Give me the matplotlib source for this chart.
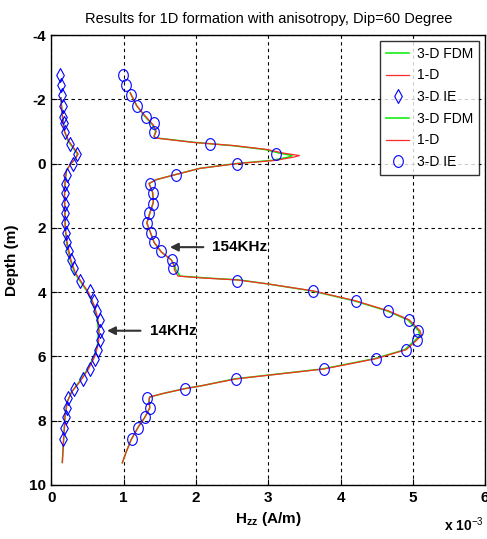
import numpy as np
import matplotlib.pyplot as plt

plt.rcParams['font.family'] = ['Liberation Sans', 'DejaVu Sans']
plt.rcParams['mathtext.fontset'] = 'custom'
plt.rcParams['mathtext.rm'] = 'Liberation Sans'
plt.rcParams['mathtext.bf'] = 'Liberation Sans:bold'

# ---- data (Hzz in 1e-3 A/m, depth in m) ----
# 3-D IE marker depths
ie_depth = [-2.77, -2.43, -2.12, -1.78, -1.46, -1.25, -0.97, -0.62, -0.31, 0.0,
            0.34, 0.62, 0.93, 1.25, 1.53, 1.84, 2.15, 2.43, 2.71, 2.99,
            3.24, 3.64, 3.96, 4.27, 4.58, 4.86, 5.20, 5.48, 5.79, 6.07,
            6.39, 6.70, 7.01, 7.29, 7.60, 7.88, 8.22, 8.57]
ie_14k = [0.12, 0.13, 0.145, 0.16, 0.16, 0.17, 0.19, 0.26, 0.35, 0.30,
          0.21, 0.19, 0.19, 0.19, 0.19, 0.19, 0.20, 0.22, 0.24, 0.27,
          0.31, 0.39, 0.53, 0.59, 0.63, 0.67, 0.67, 0.67, 0.64, 0.60,
          0.53, 0.43, 0.31, 0.23, 0.21, 0.20, 0.18, 0.16]
ie_154k = [0.99, 1.03, 1.10, 1.18, 1.31, 1.42, 1.42, 2.19, 3.11, 2.57,
           1.72, 1.36, 1.40, 1.40, 1.35, 1.32, 1.38, 1.42, 1.51, 1.67,
           1.68, 2.57, 3.62, 4.21, 4.66, 4.95, 5.07, 5.06, 4.91, 4.49,
           3.77, 2.55, 1.85, 1.32, 1.36, 1.30, 1.20, 1.11]

# 1-D and 3-D FDM curves, 14 KHz
d14 = [-2.05, -1.5, -1.0, -0.7, -0.45, -0.3, -0.15, 0.0, 0.2, 0.5,
       1.0, 2.0, 2.5, 3.0, 3.4, 3.7, 4.0, 4.4, 4.8, 5.2,
       5.6, 6.0, 6.4, 6.8, 7.1, 7.4, 7.8, 8.5, 9.3]
oned_14k = [0.13, 0.15, 0.18, 0.24, 0.32, 0.37, 0.33, 0.27, 0.21, 0.19,
            0.18, 0.19, 0.22, 0.27, 0.33, 0.42, 0.51, 0.59, 0.64, 0.66,
            0.65, 0.60, 0.51, 0.39, 0.28, 0.22, 0.19, 0.17, 0.15]
fdm_14k = [0.13, 0.15, 0.18, 0.23, 0.31, 0.36, 0.33, 0.27, 0.21, 0.19,
           0.18, 0.19, 0.21, 0.26, 0.32, 0.41, 0.50, 0.58, 0.63, 0.65,
           0.64, 0.59, 0.50, 0.38, 0.28, 0.22, 0.19, 0.17, 0.15]

# 1-D and 3-D FDM curves, 154 KHz
d154 = [-2.2, -1.8, -1.5, -1.2, -1.0, -0.85, -0.8, -0.66, -0.56, -0.44,
        -0.33, -0.25, -0.2, -0.1, 0.0, 0.15, 0.34, 0.5, 0.62, 0.9,
        1.2, 1.55, 1.85, 2.15, 2.45, 2.75, 3.0, 3.2, 3.3, 3.5,
        3.56, 3.62, 3.74, 3.96, 4.27, 4.58, 4.86, 5.2, 5.35, 5.48,
        5.79, 6.07, 6.39, 6.7, 6.92, 7.0, 7.15, 7.26, 7.35, 7.6,
        7.9, 8.2, 8.6, 9.0, 9.31]
oned_154k = [1.09, 1.18, 1.29, 1.41, 1.45, 1.42, 1.43, 1.96, 2.52, 2.98,
             3.20, 3.43, 3.35, 3.10, 2.57, 2.05, 1.72, 1.45, 1.35, 1.40,
             1.41, 1.36, 1.32, 1.37, 1.42, 1.52, 1.66, 1.70, 1.70, 1.75,
             2.10, 2.57, 2.98, 3.62, 4.21, 4.66, 4.95, 5.10, 5.12, 5.06,
             4.91, 4.49, 3.77, 2.55, 2.06, 1.85, 1.55, 1.36, 1.35, 1.36,
             1.29, 1.20, 1.10, 1.03, 0.98]
fdm_154k = [1.09, 1.18, 1.28, 1.40, 1.44, 1.42, 1.44, 1.98, 2.50, 2.95,
            3.15, 3.33, 3.28, 3.05, 2.55, 2.05, 1.72, 1.45, 1.35, 1.40,
            1.41, 1.36, 1.32, 1.37, 1.42, 1.52, 1.66, 1.71, 1.72, 1.78,
            2.15, 2.60, 2.98, 3.60, 4.19, 4.64, 4.93, 5.08, 5.10, 5.04,
            4.89, 4.47, 3.75, 2.53, 2.06, 1.85, 1.55, 1.36, 1.35, 1.36,
            1.29, 1.20, 1.10, 1.03, 0.98]

xticks = [0, 1, 2, 3, 4, 5, 6]
yticks = [-4, -2, 0, 2, 4, 6, 8, 10]

green = '#00ee00'
red = '#ff2a2a'
blue = '#0000ff'
# slightly tall marker shapes, like the stretched MATLAB export
diamond = [(-0.55, 0), (0, 1), (0.55, 0), (0, -1), (-0.55, 0)]
t = np.linspace(0, 2 * np.pi, 25)
ellipse = list(zip(0.82 * np.cos(t), np.sin(t)))

fig = plt.figure(figsize=(4.87, 5.39), dpi=100)
ax = fig.add_axes([0.1057, 0.1002, 0.8903, 0.8348])

l1, = ax.plot(fdm_14k, d14, color=green, lw=1.1, label='3-D FDM')
l2, = ax.plot(oned_14k, d14, color=red, lw=0.9, label='1-D')
l3, = ax.plot(ie_14k, ie_depth, ls='none', marker=diamond, ms=10, mfc='none',
              mec=blue, mew=0.8, label='3-D IE')
l4, = ax.plot(fdm_154k, d154, color=green, lw=1.1, label='3-D FDM')
l5, = ax.plot(oned_154k, d154, color=red, lw=0.9, label='1-D')
l6, = ax.plot(ie_154k, ie_depth, ls='none', marker=ellipse, ms=8.5, mfc='none',
              mec=blue, mew=0.8, label='3-D IE')

ax.set_xlim(0, 6)
ax.set_ylim(10, -4)
ax.set_xticks(xticks)
ax.set_yticks(yticks)
ax.set_xticklabels([str(v) for v in xticks], fontsize=11, fontweight='bold')
ax.set_yticklabels([str(v) for v in yticks], fontsize=11, fontweight='bold')
ax.tick_params(direction='in', length=4, width=0.8, pad=4)
ax.grid(True, color='black', linestyle=(0, (3, 3)), linewidth=0.8)
for s in ax.spines.values():
    s.set_linewidth(1.0)

ax.set_title('Results for 1D formation with anisotropy, Dip=60 Degree',
             fontsize=10.5, pad=9)
ax.set_xlabel(r'H$_{\mathbf{zz}}$ (A/m)', fontsize=11, fontweight='bold', labelpad=4)
ax.set_ylabel('Depth (m)', fontsize=11, fontweight='bold', labelpad=7)
fig.text(0.912, 0.014, r'x 10$^{-3}$', fontsize=10, fontweight='bold')

# frequency annotations
ax.annotate('', xy=(1.6, 2.6), xytext=(2.14, 2.6),
            arrowprops=dict(arrowstyle='-|>', color='#333333', lw=1.5,
                            mutation_scale=12))
ax.text(2.22, 2.6, '154KHz', fontsize=11, fontweight='bold', va='center')
ax.annotate('', xy=(0.73, 5.2), xytext=(1.27, 5.2),
            arrowprops=dict(arrowstyle='-|>', color='#333333', lw=1.5,
                            mutation_scale=12))
ax.text(1.37, 5.2, '14KHz', fontsize=11, fontweight='bold', va='center')

leg = ax.legend(handles=[l1, l2, l3, l4, l5, l6], loc='upper right',
                fontsize=10, frameon=True, fancybox=False, borderaxespad=0.4,
                handlelength=1.6, labelspacing=0.55, borderpad=0.45,
                handletextpad=0.6)
leg.get_frame().set_edgecolor('black')
leg.get_frame().set_linewidth(1.0)

fig.savefig('out.png', dpi=100)
